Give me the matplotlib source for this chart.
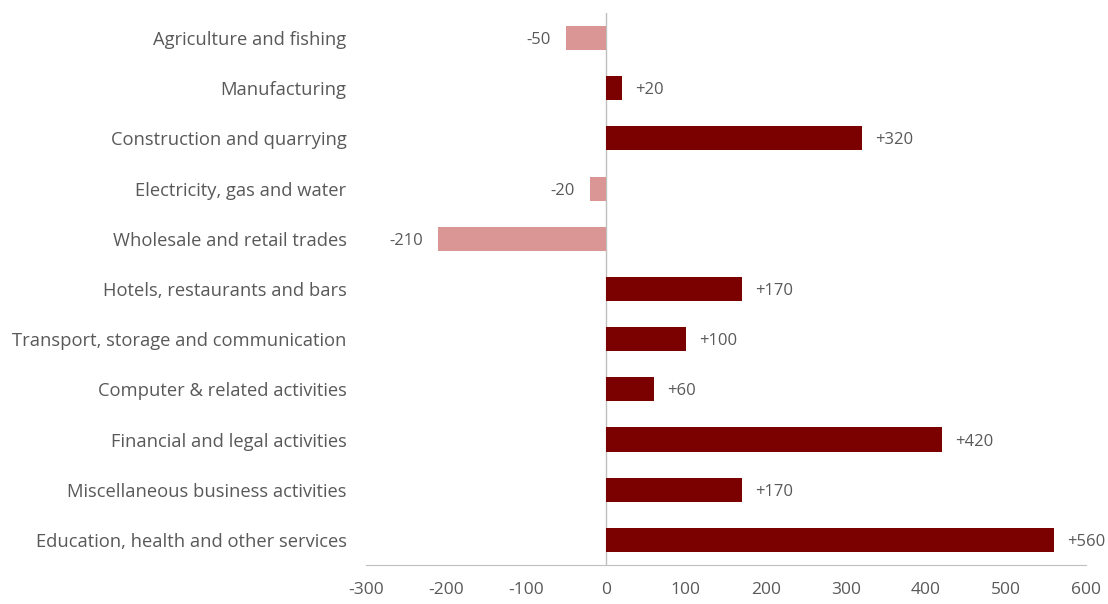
import matplotlib.pyplot as plt

sectors = [
    'Agriculture and fishing',
    'Manufacturing',
    'Construction and quarrying',
    'Electricity, gas and water',
    'Wholesale and retail trades',
    'Hotels, restaurants and bars',
    'Transport, storage and communication',
    'Computer & related activities',
    'Financial and legal activities',
    'Miscellaneous business activities',
    'Education, health and other services',
]
change = [-50, 20, 320, -20, -210, 170, 100, 60, 420, 170, 560]
x_ticks = [-300, -200, -100, 0, 100, 200, 300, 400, 500, 600]

dark_red = '#7B0000'
light_red = '#D99694'
text_grey = '#595959'
line_grey = '#BFBFBF'

plt.rcParams['font.family'] = ['Open Sans', 'DejaVu Sans']

fig = plt.figure(figsize=(11.08, 6.04), dpi=100)
ax = fig.add_axes([0.3303, 0.0646, 0.6497, 0.9139])

pos = list(range(len(sectors)))
colors = [dark_red if v >= 0 else light_red for v in change]
ax.barh(pos, change, height=0.48, color=colors, zorder=2)

for y, v in zip(pos, change):
    if v >= 0:
        ax.annotate('+%d' % v, (v, y), xytext=(13, 0), textcoords='offset pixels',
                    ha='left', va='center_baseline', fontsize=12, color=text_grey)
    else:
        ax.annotate('%d' % v, (v, y), xytext=(-15, 0), textcoords='offset pixels',
                    ha='right', va='center_baseline', fontsize=12, color=text_grey)

ax.set_xlim(-300, 600)
ax.set_ylim(len(sectors) - 0.5, -0.5)
ax.set_xticks(x_ticks)
ax.set_xticklabels([str(t) for t in x_ticks])
ax.set_yticks(pos)
ax.set_yticklabels(sectors, fontsize=13.2, va='center_baseline')
ax.tick_params(axis='both', length=0, labelcolor=text_grey)
ax.tick_params(axis='x', labelsize=12.5, pad=12)
ax.tick_params(axis='y', pad=14)

for side in ['top', 'right', 'left']:
    ax.spines[side].set_visible(False)
ax.spines['bottom'].set_color(line_grey)
ax.axvline(0, color=line_grey, lw=1, zorder=1)

fig.savefig('out.png', dpi=100)
